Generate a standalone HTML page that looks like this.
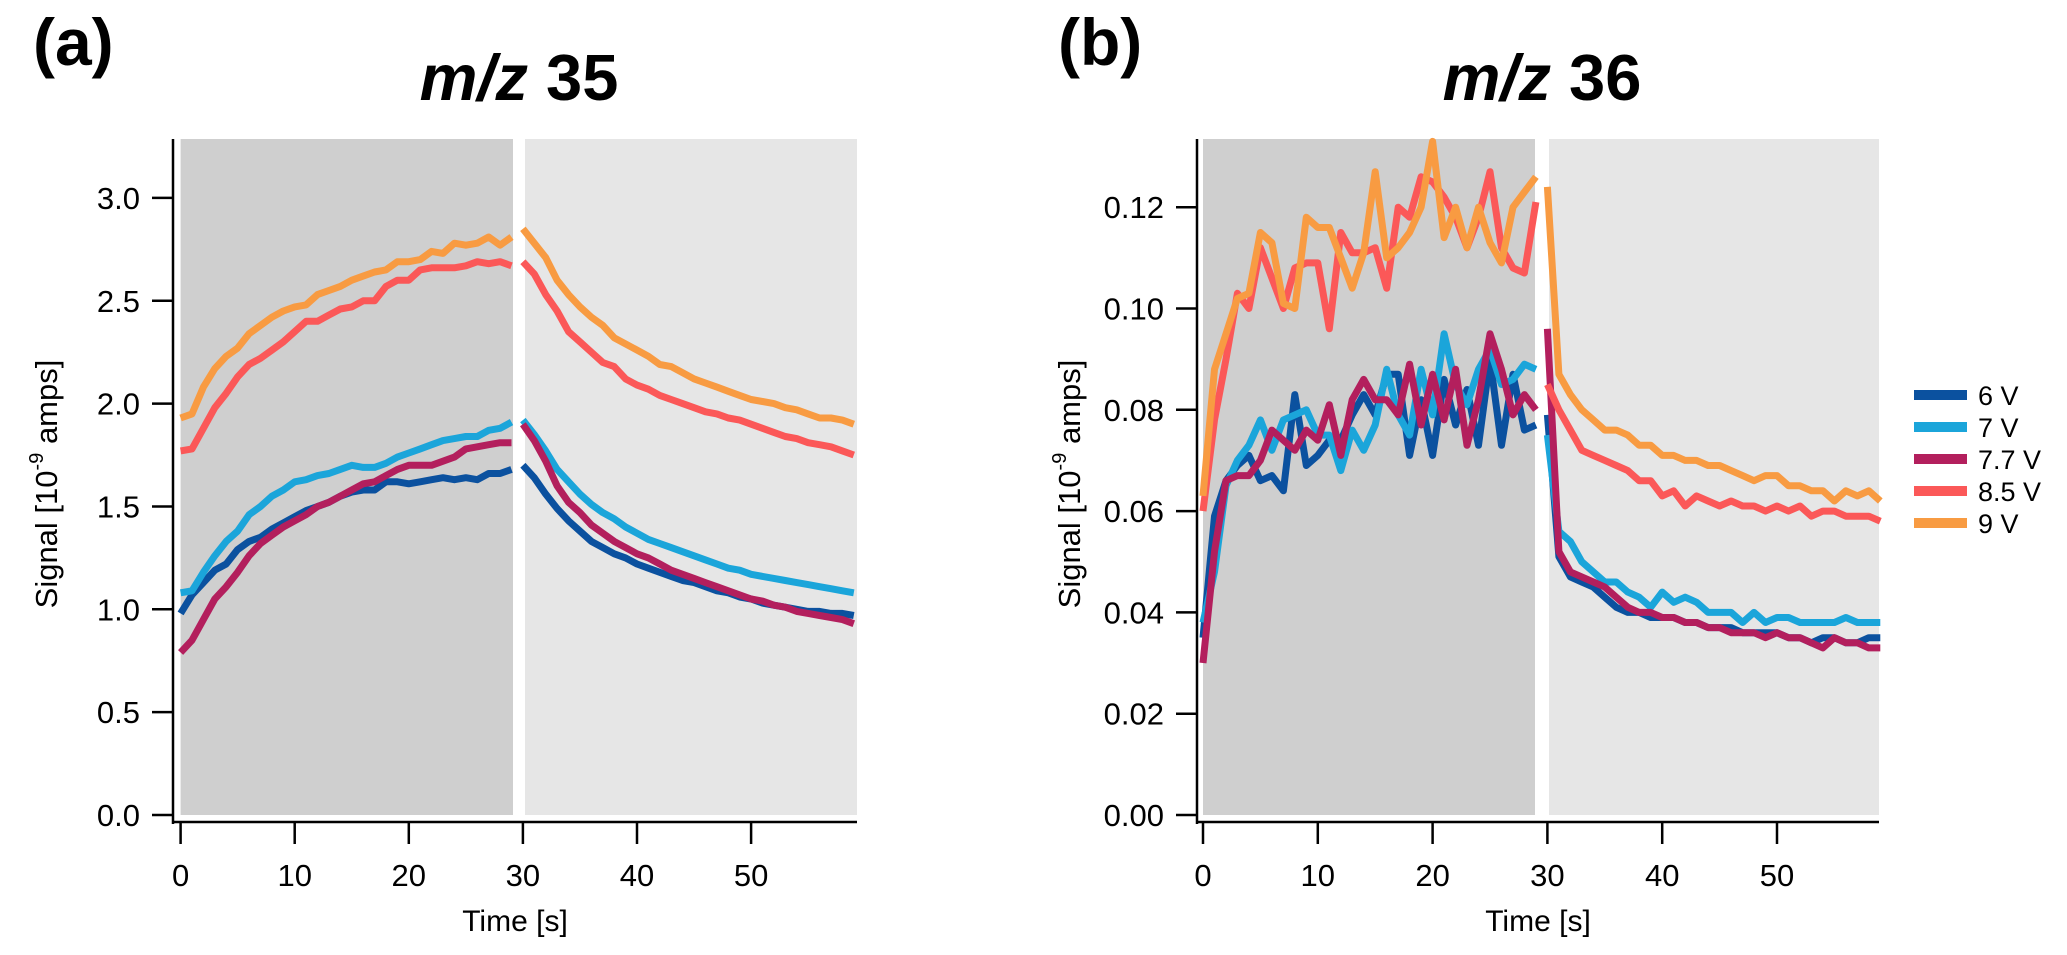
<!DOCTYPE html>
<html><head><meta charset="utf-8"><style>
html,body{margin:0;padding:0;background:#fff;}
svg{display:block;font-family:"Liberation Sans",Arial,sans-serif;}
</style></head><body>
<svg id="chart" width="2067" height="955" viewBox="0 0 2067 955" xmlns="http://www.w3.org/2000/svg"></svg>
<script>
const seriesNames = ["6 V","7 V","7.7 V","8.5 V","9 V"];
const seriesColors = ["#0b519f","#1ba5da","#b31f5d","#fb5858","#f89b42"];
const xTicks = [0,10,20,30,40,50];
const aTicks = [0.0,0.5,1.0,1.5,2.0,2.5,3.0];
const aTickLabels = ["0.0","0.5","1.0","1.5","2.0","2.5","3.0"];
const bTicks = [0,0.02,0.04,0.06,0.08,0.10,0.12];
const bTickLabels = ["0.00","0.02","0.04","0.06","0.08","0.10","0.12"];
// Panel a (m/z 35), on = t 0..29, off = t 30..59
const a6on = [0.98,1.07,1.13,1.19,1.22,1.29,1.33,1.35,1.39,1.42,1.45,1.48,1.50,1.52,1.55,1.57,1.58,1.58,1.62,1.62,1.61,1.62,1.63,1.64,1.63,1.64,1.63,1.66,1.66,1.68];
const a6off = [1.70,1.64,1.56,1.49,1.43,1.38,1.33,1.30,1.27,1.25,1.22,1.20,1.18,1.16,1.14,1.13,1.11,1.09,1.08,1.06,1.05,1.03,1.02,1.01,1.00,0.99,0.99,0.98,0.98,0.97];
const a7on = [1.08,1.09,1.18,1.26,1.33,1.38,1.46,1.50,1.55,1.58,1.62,1.63,1.65,1.66,1.68,1.70,1.69,1.69,1.71,1.74,1.76,1.78,1.80,1.82,1.83,1.84,1.84,1.87,1.88,1.91];
const a7off = [1.92,1.85,1.77,1.68,1.62,1.56,1.51,1.47,1.44,1.40,1.37,1.34,1.32,1.30,1.28,1.26,1.24,1.22,1.20,1.19,1.17,1.16,1.15,1.14,1.13,1.12,1.11,1.10,1.09,1.08];
const a77on = [0.79,0.85,0.95,1.05,1.11,1.18,1.26,1.32,1.36,1.40,1.43,1.46,1.50,1.52,1.55,1.58,1.61,1.62,1.65,1.68,1.70,1.70,1.70,1.72,1.74,1.78,1.79,1.80,1.81,1.81];
const a77off = [1.90,1.82,1.72,1.60,1.52,1.47,1.41,1.37,1.33,1.30,1.27,1.25,1.22,1.19,1.17,1.15,1.13,1.11,1.09,1.07,1.05,1.04,1.02,1.01,0.99,0.98,0.97,0.96,0.95,0.93];
const a85on = [1.77,1.78,1.88,1.98,2.05,2.13,2.19,2.22,2.26,2.30,2.35,2.40,2.40,2.43,2.46,2.47,2.50,2.50,2.57,2.60,2.60,2.65,2.66,2.66,2.66,2.67,2.69,2.68,2.69,2.67];
const a85off = [2.69,2.63,2.53,2.45,2.35,2.30,2.25,2.20,2.18,2.12,2.09,2.07,2.04,2.02,2.00,1.98,1.96,1.95,1.93,1.92,1.90,1.88,1.86,1.84,1.83,1.81,1.80,1.79,1.77,1.75];
const a9on = [1.93,1.95,2.08,2.17,2.23,2.27,2.34,2.38,2.42,2.45,2.47,2.48,2.53,2.55,2.57,2.60,2.62,2.64,2.65,2.69,2.69,2.70,2.74,2.73,2.78,2.77,2.78,2.81,2.77,2.81];
const a9off = [2.85,2.78,2.71,2.60,2.53,2.47,2.42,2.38,2.32,2.29,2.26,2.23,2.19,2.18,2.15,2.12,2.10,2.08,2.06,2.04,2.02,2.01,2.00,1.98,1.97,1.95,1.93,1.93,1.92,1.90];
// Panel b (m/z 36)
const b6on = [0.035,0.059,0.066,0.069,0.071,0.066,0.067,0.064,0.083,0.069,0.071,0.074,0.074,0.079,0.083,0.079,0.087,0.087,0.071,0.082,0.071,0.086,0.077,0.084,0.073,0.090,0.073,0.087,0.076,0.077];
const b6off = [0.079,0.051,0.047,0.046,0.045,0.043,0.041,0.040,0.040,0.039,0.039,0.039,0.038,0.038,0.037,0.037,0.037,0.036,0.036,0.036,0.036,0.035,0.035,0.034,0.035,0.035,0.034,0.034,0.035,0.035];
const b7on = [0.038,0.048,0.065,0.070,0.073,0.078,0.072,0.078,0.079,0.080,0.075,0.075,0.068,0.076,0.072,0.077,0.088,0.079,0.075,0.088,0.079,0.095,0.085,0.081,0.088,0.092,0.085,0.086,0.089,0.088];
const b7off = [0.075,0.056,0.054,0.050,0.048,0.046,0.046,0.044,0.043,0.041,0.044,0.042,0.043,0.042,0.040,0.040,0.040,0.038,0.040,0.038,0.039,0.039,0.038,0.038,0.038,0.038,0.039,0.038,0.038,0.038];
const b77on = [0.030,0.052,0.066,0.067,0.067,0.070,0.076,0.074,0.072,0.076,0.074,0.081,0.071,0.082,0.086,0.082,0.082,0.079,0.089,0.077,0.087,0.078,0.088,0.073,0.082,0.095,0.088,0.079,0.083,0.080];
const b77off = [0.096,0.052,0.048,0.047,0.046,0.045,0.043,0.041,0.040,0.040,0.039,0.039,0.038,0.038,0.037,0.037,0.036,0.036,0.036,0.035,0.036,0.035,0.035,0.034,0.033,0.035,0.034,0.034,0.033,0.033];
const b85on = [0.060,0.078,0.090,0.103,0.100,0.112,0.106,0.100,0.108,0.109,0.109,0.096,0.115,0.111,0.111,0.112,0.104,0.120,0.118,0.126,0.125,0.122,0.118,0.112,0.118,0.127,0.112,0.108,0.107,0.121];
const b85off = [0.085,0.080,0.076,0.072,0.071,0.070,0.069,0.068,0.066,0.066,0.063,0.064,0.061,0.063,0.062,0.061,0.062,0.061,0.061,0.060,0.061,0.060,0.061,0.059,0.060,0.060,0.059,0.059,0.059,0.058];
const b9on = [0.063,0.088,0.095,0.102,0.103,0.115,0.113,0.101,0.100,0.118,0.116,0.116,0.110,0.104,0.111,0.127,0.110,0.112,0.115,0.120,0.133,0.114,0.120,0.112,0.120,0.113,0.109,0.120,0.123,0.126];
const b9off = [0.124,0.087,0.083,0.080,0.078,0.076,0.076,0.075,0.073,0.073,0.071,0.071,0.070,0.070,0.069,0.069,0.068,0.067,0.066,0.067,0.067,0.065,0.065,0.064,0.064,0.062,0.064,0.063,0.064,0.062];

const NS="http://www.w3.org/2000/svg";
const svg=document.getElementById('chart');
function mk(tag,attrs,parent){const e=document.createElementNS(NS,tag);for(const k in attrs)e.setAttribute(k,attrs[k]);(parent||svg).appendChild(e);return e;}

const panels=[
 {key:'a',x0:180.6,pxs:11.41,left:173,right:857,y0:815,ppu:205.7,ticks:aTicks,labels:aTickLabels,
  on:[a6on,a7on,a77on,a85on,a9on],off:[a6off,a7off,a77off,a85off,a9off],darkEnd:513,lightStart:525,
  tag:'(a)',tagX:33,title:'35',titleX:519,ylabX:57},
 {key:'b',x0:1203,pxs:11.48,left:1197,right:1879,y0:815,ppu:5065,ticks:bTicks,labels:bTickLabels,
  on:[b6on,b7on,b77on,b85on,b9on],off:[b6off,b7off,b77off,b85off,b9off],darkEnd:1535,lightStart:1549,
  tag:'(b)',tagX:1058,title:'36',titleX:1542,ylabX:1080}
];
panels.forEach(p=>{
 const g=mk('g',{});
 
 
 const sx=t=>p.x0+t*p.pxs, sy=v=>p.y0-v*p.ppu;
 const top=139, bot=815;
 const d=mk('rect',{x:p.x0,y:top,width:p.darkEnd-p.x0,height:bot-top,fill:'#cfcfcf'},g);
 
 
 const l=mk('rect',{x:p.lightStart,y:top,width:p.right-p.lightStart,height:bot-top,fill:'#e6e6e6'},g);
 
 
 for(let s=0;s<5;s++){
  [[p.on[s],0],[p.off[s],30]].forEach(([arr,off],k)=>{
   const pts=arr.map((v,i)=>sx(i+off).toFixed(1)+','+sy(v).toFixed(1)).join(' ');
   const pl=mk('polyline',{points:pts,fill:'none',stroke:seriesColors[s],'stroke-width':7,'stroke-linejoin':'round'},g);
   
   
  });
 }
 const ya=mk('line',{x1:p.left,y1:top,x2:p.left,y2:824,stroke:'#000','stroke-width':2.5},g);
 
 
 const xa=mk('line',{x1:p.left,y1:822,x2:p.right,y2:822,stroke:'#000','stroke-width':2.5},g);
 
 
 p.ticks.forEach((v,i)=>{
  mk('line',{x1:p.left-21,y1:sy(v),x2:p.left,y2:sy(v),stroke:'#000','stroke-width':2.5},g);
  const t=mk('text',{x:p.left-33,y:sy(v)+11,'text-anchor':'end','font-size':31,fill:'#000'},g);
  t.textContent=p.labels[i];
  
  
 });
 xTicks.forEach(v=>{
  mk('line',{x1:sx(v),y1:822,x2:sx(v),y2:844,stroke:'#000','stroke-width':2.5},g);
  const t=mk('text',{x:sx(v),y:886,'text-anchor':'middle','font-size':31,fill:'#000'},g);
  t.textContent=v;
  
  
 });
 const xt=mk('text',{x:(p.left+p.right)/2,y:931,'text-anchor':'middle','font-size':30},g);
 xt.textContent='Time [s]';
 
 
 const yt=mk('text',{x:0,y:0,'text-anchor':'middle','font-size':31,transform:`translate(${p.ylabX},484) rotate(-90)`},g);
 yt.innerHTML='Signal [10<tspan dy="-14" font-size="20">-9</tspan><tspan dy="14"> amps]</tspan>';
 
 
 const tg=mk('text',{x:p.tagX,y:65,'text-anchor':'start','font-size':66,'font-weight':'bold'},g);
 tg.textContent=p.tag;
 
 
 const tt=mk('text',{x:p.titleX,y:100,'text-anchor':'middle','font-size':65,'font-weight':'bold'},g);
 tt.innerHTML='<tspan font-style="italic">m/z</tspan> '+p.title;
 
 
});
const lg=mk('g',{});


seriesNames.forEach((n,i)=>{
 const y=395+i*32;
 const r=mk('rect',{x:1914,y:y-5,width:53,height:10,fill:seriesColors[i]},lg);
 
 
 const t=mk('text',{x:1978,y:y+10,'font-size':27},lg);
 t.textContent=n;
 
 
});
</script>
</body></html>
